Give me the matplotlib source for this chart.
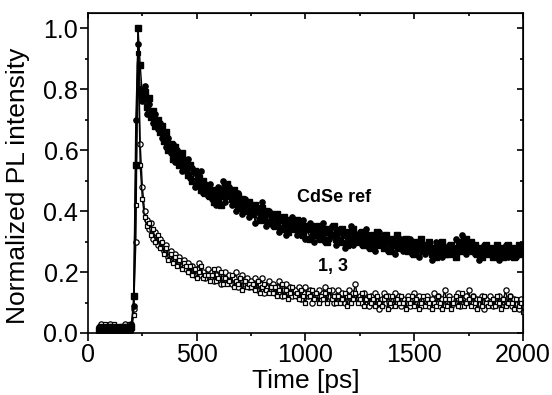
import matplotlib
matplotlib.use('Agg')
import matplotlib.pyplot as plt
from matplotlib.ticker import MultipleLocator
import numpy as np

plt.rcParams['font.family'] = ['Liberation Sans', 'DejaVu Sans']

# time axis [ps], one row per 100 ps
time_ps = [50, 60, 70, 80, 90, 100, 110, 120, 130, 140,
           150, 160, 170, 180, 190, 200, 210, 220, 230, 240,
           250, 260, 270, 280, 290, 300, 310, 320, 330, 340,
           350, 360, 370, 380, 390, 400, 410, 420, 430, 440,
           450, 460, 470, 480, 490, 500, 510, 520, 530, 540,
           550, 560, 570, 580, 590, 600, 610, 620, 630, 640,
           650, 660, 670, 680, 690, 700, 710, 720, 730, 740,
           750, 760, 770, 780, 790, 800, 810, 820, 830, 840,
           850, 860, 870, 880, 890, 900, 910, 920, 930, 940,
           950, 960, 970, 980, 990, 1000, 1010, 1020, 1030, 1040,
           1050, 1060, 1070, 1080, 1090, 1100, 1110, 1120, 1130, 1140,
           1150, 1160, 1170, 1180, 1190, 1200, 1210, 1220, 1230, 1240,
           1250, 1260, 1270, 1280, 1290, 1300, 1310, 1320, 1330, 1340,
           1350, 1360, 1370, 1380, 1390, 1400, 1410, 1420, 1430, 1440,
           1450, 1460, 1470, 1480, 1490, 1500, 1510, 1520, 1530, 1540,
           1550, 1560, 1570, 1580, 1590, 1600, 1610, 1620, 1630, 1640,
           1650, 1660, 1670, 1680, 1690, 1700, 1710, 1720, 1730, 1740,
           1750, 1760, 1770, 1780, 1790, 1800, 1810, 1820, 1830, 1840,
           1850, 1860, 1870, 1880, 1890, 1900, 1910, 1920, 1930, 1940,
           1950, 1960, 1970, 1980, 1990, 2000]

# CdSe reference, two traces
cdse_a = [0.01, 0.02, 0.01, 0.00, 0.02, 0.01, 0.02, 0.01, 0.00, 0.02,
          0.01, 0.02, 0.01, 0.02, 0.01, 0.02, 0.12, 0.55, 1.00, 0.88,
          0.78, 0.79, 0.74, 0.77, 0.71, 0.73, 0.68, 0.70, 0.66, 0.68,
          0.63, 0.66, 0.60, 0.62, 0.57, 0.61, 0.58, 0.55, 0.59, 0.54,
          0.56, 0.52, 0.55, 0.50, 0.53, 0.49, 0.51, 0.47, 0.50, 0.46,
          0.48, 0.45, 0.47, 0.43, 0.46, 0.44, 0.42, 0.47, 0.45, 0.49,
          0.46, 0.44, 0.47, 0.43, 0.45, 0.41, 0.44, 0.42, 0.40, 0.43,
          0.41, 0.39, 0.42, 0.40, 0.37, 0.41, 0.38, 0.40, 0.36, 0.39,
          0.38, 0.35, 0.39, 0.37, 0.34, 0.38, 0.36, 0.33, 0.37, 0.35,
          0.34, 0.37, 0.33, 0.36, 0.32, 0.35, 0.34, 0.31, 0.35, 0.33,
          0.32, 0.35, 0.31, 0.34, 0.33, 0.30, 0.34, 0.32, 0.35, 0.31,
          0.33, 0.30, 0.34, 0.32, 0.29, 0.33, 0.31, 0.34, 0.30, 0.32,
          0.31, 0.33, 0.29, 0.32, 0.30, 0.28, 0.32, 0.30, 0.33, 0.29,
          0.31, 0.28, 0.32, 0.30, 0.27, 0.31, 0.29, 0.32, 0.28, 0.30,
          0.29, 0.31, 0.27, 0.30, 0.28, 0.26, 0.30, 0.28, 0.31, 0.27,
          0.29, 0.27, 0.30, 0.26, 0.28, 0.25, 0.29, 0.27, 0.30, 0.26,
          0.28, 0.26, 0.29, 0.27, 0.25, 0.28, 0.30, 0.27, 0.29, 0.31,
          0.28, 0.30, 0.27, 0.29, 0.26, 0.28, 0.25, 0.27, 0.29, 0.26,
          0.28, 0.25, 0.27, 0.29, 0.26, 0.28, 0.25, 0.27, 0.29, 0.26,
          0.28, 0.25, 0.27, 0.29, 0.26, 0.27]
cdse_b = [0.02, 0.01, 0.02, 0.01, 0.00, 0.02, 0.01, 0.02, 0.01, 0.02,
          0.02, 0.01, 0.02, 0.01, 0.02, 0.03, 0.09, 0.70, 0.95, 0.80,
          0.76, 0.81, 0.72, 0.75, 0.73, 0.69, 0.72, 0.67, 0.69, 0.64,
          0.66, 0.61, 0.64, 0.59, 0.62, 0.56, 0.60, 0.57, 0.53, 0.57,
          0.53, 0.57, 0.51, 0.54, 0.48, 0.52, 0.49, 0.53, 0.46, 0.49,
          0.45, 0.49, 0.44, 0.47, 0.42, 0.48, 0.45, 0.50, 0.43, 0.46,
          0.48, 0.42, 0.45, 0.40, 0.46, 0.43, 0.39, 0.44, 0.42, 0.38,
          0.42, 0.40, 0.36, 0.41, 0.39, 0.43, 0.37, 0.35, 0.40, 0.37,
          0.35, 0.39, 0.36, 0.33, 0.38, 0.35, 0.32, 0.37, 0.34, 0.38,
          0.36, 0.32, 0.35, 0.33, 0.37, 0.31, 0.34, 0.36, 0.32, 0.30,
          0.34, 0.31, 0.33, 0.36, 0.30, 0.33, 0.31, 0.35, 0.32, 0.29,
          0.31, 0.34, 0.30, 0.28, 0.33, 0.31, 0.35, 0.29, 0.32, 0.30,
          0.33, 0.29, 0.31, 0.34, 0.28, 0.31, 0.29, 0.27, 0.31, 0.33,
          0.29, 0.32, 0.30, 0.27, 0.31, 0.29, 0.26, 0.30, 0.28, 0.31,
          0.27, 0.30, 0.28, 0.31, 0.26, 0.29, 0.27, 0.25, 0.29, 0.28,
          0.26, 0.29, 0.27, 0.24, 0.28, 0.30, 0.26, 0.28, 0.25, 0.28,
          0.27, 0.29, 0.26, 0.28, 0.31, 0.27, 0.29, 0.32, 0.28, 0.26,
          0.30, 0.27, 0.29, 0.26, 0.28, 0.24, 0.27, 0.29, 0.26, 0.28,
          0.26, 0.28, 0.25, 0.27, 0.24, 0.28, 0.26, 0.29, 0.25, 0.27,
          0.26, 0.28, 0.25, 0.27, 0.28, 0.26]

# samples 1 and 3
sample_1 = [0.01, 0.03, 0.02, 0.01, 0.02, 0.03, 0.01, 0.02, 0.01, 0.02,
            0.02, 0.01, 0.03, 0.01, 0.02, 0.02, 0.08, 0.30, 1.00, 0.62,
            0.48, 0.40, 0.37, 0.34, 0.36, 0.31, 0.33, 0.29, 0.31, 0.28,
            0.27, 0.29, 0.25, 0.27, 0.24, 0.26, 0.23, 0.25, 0.22, 0.24,
            0.21, 0.23, 0.20, 0.22, 0.19, 0.21, 0.23, 0.19, 0.20, 0.18,
            0.21, 0.18, 0.20, 0.17, 0.19, 0.21, 0.16, 0.18, 0.20, 0.17,
            0.19, 0.16, 0.18, 0.20, 0.15, 0.17, 0.19, 0.16, 0.18, 0.15,
            0.17, 0.15, 0.18, 0.14, 0.16, 0.18, 0.13, 0.15, 0.17, 0.14,
            0.16, 0.13, 0.15, 0.17, 0.12, 0.14, 0.16, 0.13, 0.15, 0.12,
            0.14, 0.12, 0.15, 0.11, 0.13, 0.15, 0.12, 0.14, 0.10, 0.13,
            0.12, 0.14, 0.11, 0.13, 0.15, 0.11, 0.12, 0.14, 0.10, 0.12,
            0.14, 0.11, 0.13, 0.10, 0.12, 0.14, 0.11, 0.13, 0.16, 0.11,
            0.12, 0.10, 0.13, 0.11, 0.09, 0.12, 0.10, 0.13, 0.11, 0.08,
            0.11, 0.13, 0.10, 0.12, 0.09, 0.11, 0.13, 0.10, 0.12, 0.09,
            0.11, 0.10, 0.12, 0.09, 0.11, 0.13, 0.10, 0.12, 0.09, 0.11,
            0.10, 0.12, 0.09, 0.11, 0.13, 0.10, 0.12, 0.09, 0.11, 0.14,
            0.10, 0.12, 0.09, 0.11, 0.10, 0.13, 0.09, 0.11, 0.10, 0.12,
            0.14, 0.10, 0.12, 0.09, 0.11, 0.10, 0.12, 0.08, 0.11, 0.10,
            0.12, 0.09, 0.11, 0.10, 0.12, 0.09, 0.11, 0.14, 0.10, 0.12,
            0.09, 0.11, 0.10, 0.08, 0.11, 0.09]
sample_3 = [0.02, 0.01, 0.02, 0.03, 0.01, 0.02, 0.01, 0.03, 0.02, 0.01,
            0.01, 0.02, 0.01, 0.02, 0.03, 0.01, 0.06, 0.42, 0.92, 0.55,
            0.44, 0.38, 0.35, 0.36, 0.32, 0.34, 0.30, 0.32, 0.28, 0.30,
            0.26, 0.28, 0.24, 0.26, 0.23, 0.25, 0.22, 0.24, 0.21, 0.23,
            0.22, 0.20, 0.22, 0.19, 0.21, 0.18, 0.20, 0.22, 0.18, 0.19,
            0.19, 0.17, 0.19, 0.21, 0.17, 0.18, 0.20, 0.16, 0.18, 0.16,
            0.17, 0.19, 0.15, 0.17, 0.16, 0.18, 0.14, 0.17, 0.15, 0.16,
            0.15, 0.16, 0.14, 0.17, 0.13, 0.15, 0.16, 0.14, 0.13, 0.15,
            0.13, 0.15, 0.12, 0.14, 0.16, 0.12, 0.14, 0.11, 0.13, 0.15,
            0.12, 0.13, 0.11, 0.14, 0.12, 0.10, 0.13, 0.12, 0.14, 0.11,
            0.13, 0.10, 0.12, 0.11, 0.13, 0.10, 0.14, 0.11, 0.12, 0.10,
            0.12, 0.10, 0.11, 0.13, 0.09, 0.12, 0.10, 0.11, 0.13, 0.10,
            0.11, 0.13, 0.09, 0.11, 0.12, 0.10, 0.11, 0.09, 0.12, 0.10,
            0.09, 0.11, 0.12, 0.08, 0.10, 0.12, 0.09, 0.11, 0.10, 0.12,
            0.10, 0.08, 0.11, 0.10, 0.12, 0.09, 0.11, 0.08, 0.10, 0.12,
            0.09, 0.11, 0.10, 0.08, 0.10, 0.09, 0.12, 0.10, 0.08, 0.11,
            0.09, 0.11, 0.08, 0.10, 0.12, 0.09, 0.11, 0.13, 0.09, 0.10,
            0.11, 0.09, 0.12, 0.10, 0.08, 0.11, 0.09, 0.12, 0.10, 0.09,
            0.10, 0.11, 0.09, 0.12, 0.10, 0.08, 0.11, 0.09, 0.10, 0.12,
            0.10, 0.08, 0.11, 0.09, 0.10, 0.07]

fig = plt.figure(figsize=(5.52, 3.95), dpi=100)
ax = fig.add_axes([0.1594, 0.157, 0.788, 0.81])

ax.plot(time_ps, sample_1, color='black', lw=1.0, marker='o', ms=3.8,
        mfc='white', mec='black', mew=0.9)
ax.plot(time_ps, sample_3, color='black', lw=1.0, marker='s', ms=3.4,
        mfc='white', mec='black', mew=0.9)
ax.plot(time_ps, cdse_b, color='black', lw=1.0, marker='o', ms=3.8,
        mfc='black', mec='black')
ax.plot(time_ps, cdse_a, color='black', lw=1.0, marker='s', ms=4.2,
        mfc='black', mec='black')

ax.text(961, 0.444, 'CdSe ref', fontsize=13, fontweight='bold', va='center')
ax.text(1057, 0.217, '1, 3', fontsize=13, fontweight='bold', va='center')

ax.set_xlim(0, 2000)
ax.set_ylim(0, 1.05)
ax.xaxis.set_major_locator(MultipleLocator(500))
ax.xaxis.set_minor_locator(MultipleLocator(250))
ax.yaxis.set_major_locator(MultipleLocator(0.2))
ax.yaxis.set_minor_locator(MultipleLocator(0.1))
ax.yaxis.set_major_formatter(plt.FormatStrFormatter('%.1f'))
ax.tick_params(which='both', direction='out', width=1.2, labelsize=18, pad=1.5)
ax.tick_params(which='major', length=5.5)
ax.tick_params(which='minor', length=2.5)
for s in ax.spines.values():
    s.set_linewidth(1.2)

# mirrored ticks on top and right, pointing inward
top = ax.secondary_xaxis('top')
top.xaxis.set_major_locator(MultipleLocator(500))
top.xaxis.set_minor_locator(MultipleLocator(250))
top.tick_params(which='both', direction='in', labeltop=False, width=1.2)
top.tick_params(which='major', length=4)
top.tick_params(which='minor', length=2.5)
right = ax.secondary_yaxis('right')
right.yaxis.set_major_locator(MultipleLocator(0.2))
right.yaxis.set_minor_locator(MultipleLocator(0.1))
right.tick_params(which='both', direction='in', labelright=False, width=1.2)
right.tick_params(which='major', length=4)
right.tick_params(which='minor', length=2.5)

ax.set_xlabel('Time [ps]', fontsize=19, labelpad=2)
ax.set_ylabel('Normalized PL intensity', fontsize=19)
ax.yaxis.set_label_coords(-0.133, 0.46)

fig.savefig('out.png', dpi=100)
